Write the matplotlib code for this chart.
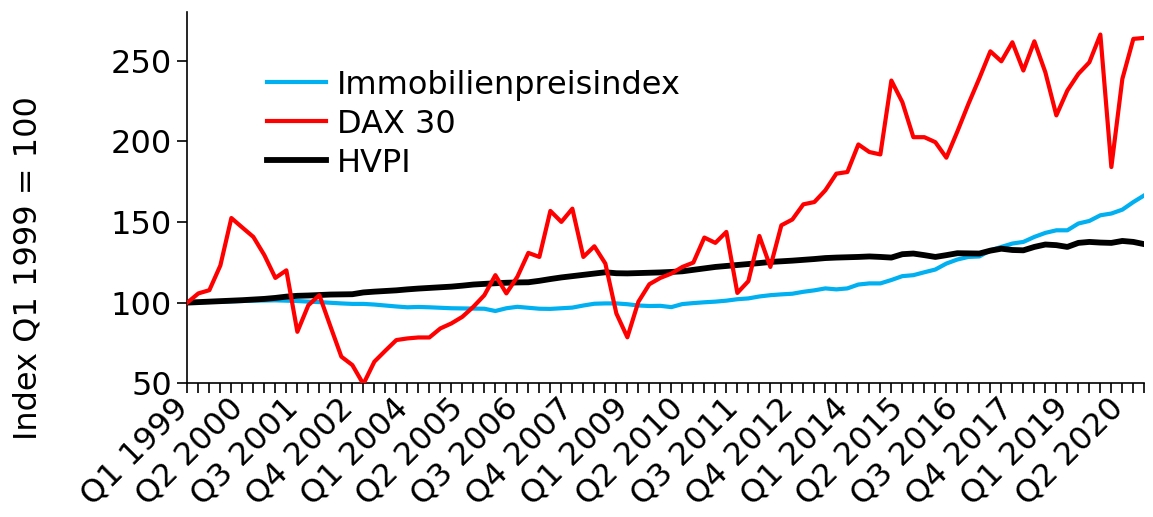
import matplotlib
matplotlib.use("Agg")
import matplotlib.pyplot as plt
import matplotlib.transforms as mtransforms

# Quartale Q1 1999 bis Q4 2020
years = list(range(1999, 2021))
quarters = [f"Q{q} {y}" for y in years for q in range(1, 5)]

# Immobilienpreisindex (Q1 1999 = 100)
immo = [100, 100.2, 100.4, 100.6, 100.8, 101, 101.2, 101.3, 101.4, 101.2,
        101, 100.6, 100.3, 99.9, 99.5, 99.2, 99.2, 98.8, 98.2, 97.6,
        97.1, 97.3, 97.1, 96.8, 96.5, 96.4, 96.3, 96.2, 94.8, 96.5,
        97.4, 96.8, 96.2, 96.1, 96.5, 96.9, 98.2, 99.3, 99.5, 99.5,
        99, 98.2, 97.9, 98, 97.2, 99.1, 99.7, 100.2, 100.6, 101.2,
        102.1, 102.6, 103.8, 104.6, 105.1, 105.5, 106.7, 107.6, 108.8, 108.2,
        108.8, 111.2, 111.9, 111.9, 114, 116.4, 117, 118.8, 120.5, 124.2,
        126.7, 128.3, 128.6, 132.4, 134.5, 136.6, 137.6, 140.7, 143.2, 144.8,
        144.8, 149, 150.6, 154.1, 155.2, 157.6, 162.3, 166.5]

# DAX 30
dax = [100, 105.7, 107.7, 123, 152.4, 146.5, 140.7, 129.4, 115.3, 120,
       81.9, 98.4, 104.6, 85.4, 66.5, 61.3, 49.5, 63.4, 70.2, 76.8,
       77.8, 78.4, 78.4, 84, 87.1, 91.2, 97.4, 104.6, 117, 105.7,
       116, 130.8, 128.3, 156.8, 150, 158.2, 128.3, 134.9, 124.2, 93.3,
       78.5, 100.5, 111.4, 115.3, 118, 122.1, 124.8, 140.3, 137, 143.8,
       106, 113.3, 141.3, 122.1, 147.9, 151.5, 160.9, 162.3, 169.6, 179.9,
       180.9, 198, 193.3, 191.8, 237.6, 224.2, 202.5, 202.5, 199.4, 189.8,
       206, 223, 239, 255.7, 249.5, 261.3, 243.8, 261.9, 242.7, 216,
       231.4, 241.7, 248.9, 266.1, 184, 238.6, 263.4, 264]

# HVPI
hvpi = [100, 100.3, 100.6, 100.9, 101.2, 101.5, 101.9, 102.3, 102.9, 103.7,
        104.2, 104.4, 104.7, 105, 105.1, 105.2, 106.3, 106.8, 107.2, 107.6,
        108.2, 108.7, 109.1, 109.5, 109.9, 110.5, 111.2, 111.6, 112, 112.3,
        112.5, 112.6, 113.5, 114.6, 115.6, 116.4, 117.2, 118, 118.8, 118.2,
        118.1, 118.3, 118.5, 118.7, 119, 119.4, 120.3, 121.2, 122.1, 122.7,
        123.3, 123.9, 124.5, 125.2, 125.6, 126, 126.5, 127, 127.6, 127.9,
        128.1, 128.3, 128.6, 128.3, 127.9, 130, 130.4, 129.4, 128.3, 129.4,
        130.6, 130.5, 130.4, 132.2, 133.4, 132.6, 132.4, 134.5, 136, 135.6,
        134.5, 137, 137.6, 137.2, 137, 138.2, 137.6, 136.2]

x = list(range(len(quarters)))

fig = plt.figure(figsize=(11.53, 5.17), dpi=100)
ax = fig.add_axes([0.1625, 0.2586, 0.8300, 0.7180])

fs = 23
ax.plot(x, immo, color="#00B0F0", lw=3.0, label="Immobilienpreisindex", zorder=2)
ax.plot(x, dax, color="#FF0000", lw=3.0, label="DAX 30", zorder=4)
ax.plot(x, hvpi, color="black", lw=4.2, label="HVPI", zorder=3)

ax.set_xlim(0, 87)
ax.set_ylim(50, 280)
ax.set_yticks([50, 100, 150, 200, 250])
ax.set_xticks(x, minor=True)
ax.set_xticks(x[::5])
ax.set_xticklabels(quarters[::5], rotation=45, ha="right")
ax.tick_params(axis="both", labelsize=fs, direction="out", width=1.2, length=7, pad=4)
ax.tick_params(axis="x", which="minor", direction="out", width=1.2, length=7)
ax.tick_params(axis="x", pad=1)

# Beschriftungen leicht nach rechts schieben
shift = mtransforms.ScaledTranslation(0.07, 0.02, fig.dpi_scale_trans)
for lbl in ax.get_xticklabels():
    lbl.set_transform(lbl.get_transform() + shift)

for s in ["top", "right"]:
    ax.spines[s].set_visible(False)
for s in ["left", "bottom"]:
    ax.spines[s].set_linewidth(1.2)

ax.set_ylabel("Index Q1 1999 = 100", fontsize=fs)
ax.yaxis.set_label_coords(-0.150, 0.31)

leg = ax.legend(loc="upper left", bbox_to_anchor=(0.083, 0.845), frameon=False,
                fontsize=fs, handlelength=1.85, handletextpad=0.35,
                labelspacing=0.25, borderpad=0, borderaxespad=0)

fig.savefig("out.png", dpi=100)
